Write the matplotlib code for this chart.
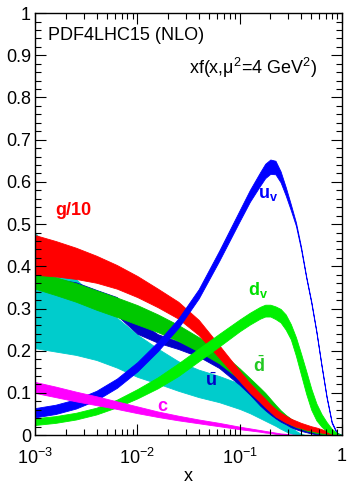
import matplotlib
matplotlib.use('Agg')
import matplotlib.pyplot as plt
from matplotlib.ticker import MultipleLocator, LogLocator, FixedLocator

plt.rcParams['font.family'] = ['Liberation Sans', 'DejaVu Sans']
plt.rcParams['mathtext.fontset'] = 'custom'
plt.rcParams['mathtext.rm'] = 'Liberation Sans'
plt.rcParams['mathtext.it'] = 'Liberation Sans:italic'
plt.rcParams['mathtext.bf'] = 'Liberation Sans:bold'

# x points
x = [0.001, 0.001585, 0.002512, 0.003981, 0.00631, 0.01, 0.01585, 0.02512, 0.03981,
     0.0631, 0.1, 0.1259, 0.1585, 0.1778, 0.1995, 0.2239, 0.2512, 0.2818, 0.3162,
     0.3548, 0.3981, 0.4467, 0.5012, 0.5623, 0.631, 0.7079, 0.7943, 0.8913, 1.0]

# strange sea (cyan), lower / upper edge
s_lo = [0.206, 0.198, 0.190, 0.178, 0.160, 0.138, 0.122, 0.105, 0.090,
        0.078, 0.062, 0.052, 0.040, 0.034, 0.028, 0.022, 0.015, 0.009, 0.004,
        0.001, 0.0, 0.0, 0.0, 0.0, 0.0, 0.0, 0.0, 0.0, 0.0]
s_hi = [0.480, 0.420, 0.370, 0.322, 0.278, 0.238, 0.205, 0.175, 0.155,
        0.140, 0.122, 0.107, 0.088, 0.076, 0.058, 0.050, 0.041, 0.030, 0.020,
        0.010, 0.003, 0.0, 0.0, 0.0, 0.0, 0.0, 0.0, 0.0, 0.0]

# ubar (dark blue), lower / upper edge
ub_lo = [0.352, 0.338, 0.322, 0.304, 0.284, 0.240, 0.219, 0.204, 0.186,
         0.159, 0.119, 0.096, 0.070, 0.059, 0.049, 0.040, 0.032, 0.026, 0.019,
         0.014, 0.010, 0.007, 0.004, 0.002, 0.001, 0.0, 0.0, 0.0, 0.0]
ub_hi = [0.368, 0.370, 0.362, 0.344, 0.327, 0.272, 0.239, 0.222, 0.204,
         0.177, 0.137, 0.112, 0.086, 0.073, 0.061, 0.050, 0.042, 0.034, 0.027,
         0.020, 0.016, 0.011, 0.008, 0.005, 0.003, 0.0015, 0.0005, 0.0, 0.0]

# dbar (green), central value / half width
db_c = [0.367, 0.353, 0.338, 0.320, 0.303, 0.285, 0.265, 0.242, 0.215,
        0.185, 0.145, 0.122, 0.100, 0.088, 0.075, 0.062, 0.050, 0.040, 0.032,
        0.025, 0.020, 0.015, 0.011, 0.008, 0.005, 0.003, 0.0015, 0.0005, 0.0]
db_e = [0.020, 0.021, 0.022, 0.023, 0.023, 0.023, 0.021, 0.019, 0.017,
        0.015, 0.013, 0.013, 0.012, 0.012, 0.011, 0.010, 0.009, 0.008, 0.007,
        0.006, 0.005, 0.004, 0.003, 0.003, 0.002, 0.0015, 0.001, 0.0005, 0.0]

# gluon / 10 (red)
g_c = [0.427, 0.418, 0.407, 0.393, 0.375, 0.352, 0.325, 0.296, 0.255,
       0.198, 0.140, 0.112, 0.088, 0.076, 0.064, 0.053, 0.045, 0.038, 0.032,
       0.027, 0.023, 0.019, 0.016, 0.013, 0.010, 0.007, 0.004, 0.0015, 0.0]
g_e = [0.047, 0.042, 0.037, 0.032, 0.028, 0.025, 0.022, 0.020, 0.018,
       0.015, 0.012, 0.011, 0.010, 0.010, 0.009, 0.009, 0.008, 0.008, 0.007,
       0.007, 0.006, 0.006, 0.005, 0.005, 0.004, 0.003, 0.002, 0.001, 0.0]

# u valence (blue)
uv_c = [0.053, 0.061, 0.074, 0.094, 0.123, 0.162, 0.210, 0.265, 0.335,
        0.425, 0.520, 0.567, 0.607, 0.626, 0.636, 0.634, 0.612, 0.578, 0.540,
        0.500, 0.443, 0.375, 0.315, 0.245, 0.165, 0.090, 0.030, 0.005, 0.0]
uv_e = [0.011, 0.011, 0.011, 0.011, 0.011, 0.011, 0.011, 0.011, 0.011,
        0.012, 0.013, 0.014, 0.016, 0.017, 0.017, 0.016, 0.013, 0.010, 0.007,
        0.004, 0.003, 0.002, 0.002, 0.0015, 0.0015, 0.0015, 0.0015, 0.001, 0.0]

# d valence (light green)
dv_c = [0.032, 0.037, 0.045, 0.057, 0.075, 0.098, 0.124, 0.155, 0.190,
        0.225, 0.260, 0.276, 0.290, 0.295, 0.295, 0.290, 0.283, 0.268, 0.245,
        0.210, 0.168, 0.125, 0.085, 0.055, 0.035, 0.020, 0.009, 0.003, 0.0]
dv_e = [0.008, 0.008, 0.008, 0.008, 0.009, 0.011, 0.013, 0.015, 0.015,
        0.015, 0.014, 0.014, 0.014, 0.014, 0.014, 0.015, 0.016, 0.018, 0.018,
        0.022, 0.025, 0.027, 0.025, 0.020, 0.015, 0.011, 0.006, 0.002, 0.0]

# charm (magenta), lower / upper edge
c_lo = [0.100, 0.090, 0.080, 0.071, 0.062, 0.052, 0.043, 0.035, 0.028,
        0.021, 0.014, 0.011, 0.008, 0.006, 0.005, 0.003, 0.002, 0.001, 0.0,
        0.0, 0.0, 0.0, 0.0, 0.0, 0.0, 0.0, 0.0, 0.0, 0.0]
c_hi = [0.126, 0.115, 0.103, 0.092, 0.080, 0.068, 0.056, 0.046, 0.037,
        0.029, 0.020, 0.016, 0.012, 0.010, 0.008, 0.006, 0.004, 0.003, 0.0015,
        0.0005, 0.0, 0.0, 0.0, 0.0, 0.0, 0.0, 0.0, 0.0, 0.0]


def band(ax, c, e, color):
    lo = [a - b for a, b in zip(c, e)]
    hi = [a + b for a, b in zip(c, e)]
    ax.fill_between(x, lo, hi, color=color, lw=0.6, edgecolor=color)


fig = plt.figure(figsize=(3.47, 4.84), dpi=100)
ax = fig.add_axes([0.101, 0.101, 0.8845, 0.872])

ax.fill_between(x, s_lo, s_hi, color='#00CCCC', lw=0.6, edgecolor='#00CCCC')
ax.fill_between(x, ub_lo, ub_hi, color='#0000C8', lw=0.6, edgecolor='#0000C8')
band(ax, db_c, db_e, '#00C800')
band(ax, g_c, g_e, '#FF0000')
band(ax, uv_c, uv_e, '#0000FF')
band(ax, dv_c, dv_e, '#00F000')
ax.fill_between(x, c_lo, c_hi, color='#FF00FF', lw=0.6, edgecolor='#FF00FF')

ax.set_xscale('log')
ax.set_xlim(1e-3, 1)
ax.set_ylim(0, 1)
ax.xaxis.set_major_locator(FixedLocator([1e-3, 1e-2, 1e-1, 1]))
ax.xaxis.set_minor_locator(LogLocator(base=10, subs=range(2, 10)))
ax.set_xticklabels(['$10^{-3}$', '$10^{-2}$', '$10^{-1}$', '1'])
ax.yaxis.set_minor_locator(MultipleLocator(0.02))
ax.set_yticks([0, 0.1, 0.2, 0.3, 0.4, 0.5, 0.6, 0.7, 0.8, 0.9, 1.0])
ax.set_yticklabels(['0', '0.1', '0.2', '0.3', '0.4', '0.5', '0.6', '0.7', '0.8', '0.9', '1'])
ax.tick_params(which='both', direction='in', top=True, right=True, labelsize=13)
ax.tick_params(which='major', length=8, width=0.8)
ax.tick_params(which='minor', length=4, width=0.8)
ax.tick_params(axis='x', pad=9)
ax.tick_params(axis='y', pad=3)
for sp in ax.spines.values():
    sp.set_linewidth(1.0)
ax.set_xlabel('x', fontsize=13, labelpad=0)

ax.text(0.042, 0.948, 'PDF4LHC15 (NLO)', transform=ax.transAxes, fontsize=13,
        va='center', ha='left')
ax.text(0.92, 0.87, 'xf(x,μ$^2$=4 GeV$^2$)', transform=ax.transAxes, fontsize=13,
        va='center', ha='right')

ax.text(0.067, 0.533, 'g/10', transform=ax.transAxes, fontsize=13, color='#FF0000',
        weight='bold', va='center')
ax.text(0.726, 0.57, r'$\mathbf{u}_\mathbf{v}$', transform=ax.transAxes, fontsize=13,
        color='#0000FF', va='center')
ax.text(0.694, 0.345, r'$\mathbf{d}_\mathbf{v}$', transform=ax.transAxes, fontsize=13,
        color='#00E000', va='center')
ax.text(0.71, 0.165, r'$\bar{\mathbf{d}}$', transform=ax.transAxes, fontsize=13,
        color='#22C822', va='center')
ax.text(0.554, 0.127, r'$\bar{\mathbf{u}}$', transform=ax.transAxes, fontsize=13,
        color='#0000C8', va='center')
ax.text(0.397, 0.068, 'c', transform=ax.transAxes, fontsize=13, color='#FF00FF',
        weight='bold', va='center')

fig.savefig('out.png', dpi=100)
